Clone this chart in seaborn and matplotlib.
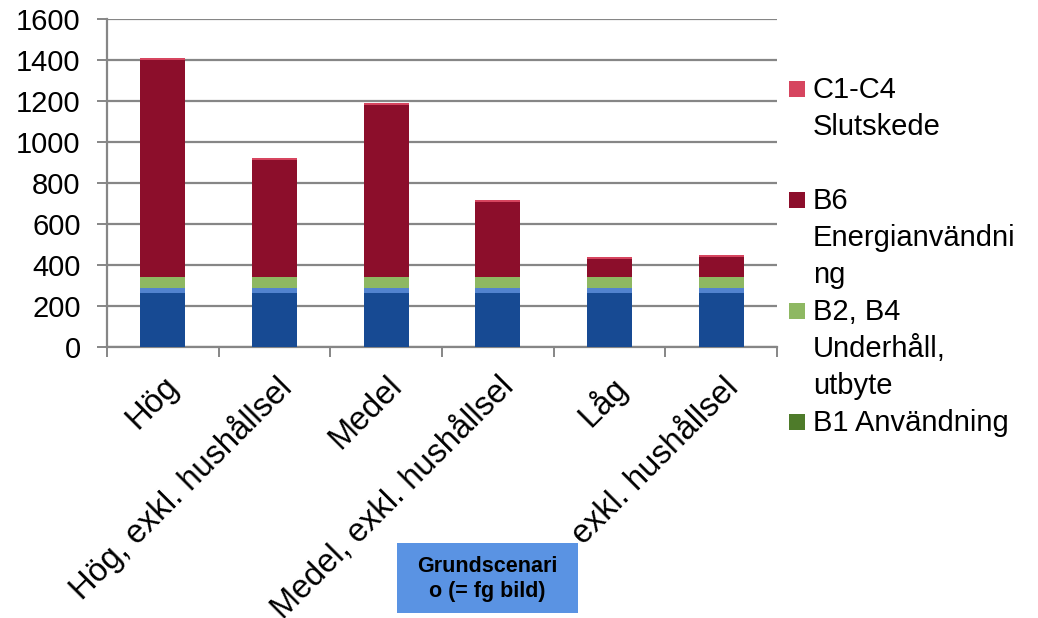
import numpy as np
import pandas as pd
import matplotlib
matplotlib.use("Agg")
import matplotlib.pyplot as plt
from matplotlib.patches import Rectangle
import seaborn as sns

# Scenarios on the x axis
scenarios = ["Hög", "Hög, exkl. hushållsel", "Medel",
             "Medel, exkl. hushållsel", "Låg", "Låg, exkl. hushållsel"]

# Stacked components, bottom to top
a1_a3 = [262, 262, 262, 262, 262, 262]
a4_a5 = [28, 28, 28, 28, 28, 28]
b1 = [0, 0, 0, 0, 0, 0]
b2_b4 = [50, 50, 50, 50, 50, 50]
b6 = [1062, 573, 840, 367, 89, 99]
c1_c4 = [10, 10, 10, 10, 10, 10]

series_names = ["A1-A3 Produktskede", "A4-A5 Byggskede", "B1 Användning",
                "B2, B4 Underhåll, utbyte", "B6 Energianvändning",
                "C1-C4 Slutskede"]
series_values = [a1_a3, a4_a5, b1, b2_b4, b6, c1_c4]
series_colors = ["#174A93", "#5283CF", "#4E7B2A", "#8EB862", "#8C0E2B", "#D6455F"]

# Legend entries (top to bottom) with their wrapped lines
legend_entries = [
    ("C1-C4 Slutskede", ["C1-C4", "Slutskede"]),
    ("B6 Energianvändning", ["B6", "Energianvändni", "ng"]),
    ("B2, B4 Underhåll, utbyte", ["B2, B4", "Underhåll,", "utbyte"]),
    ("B1 Användning", ["B1 Användning"]),
]

sns.set_style("white")
plt.rcParams["font.family"] = ["Liberation Sans", "DejaVu Sans"]
plt.rcParams["text.color"] = "black"
plt.rcParams["xtick.labelcolor"] = "black"
plt.rcParams["ytick.labelcolor"] = "black"

W, H = 1038, 618
fig = plt.figure(figsize=(W / 100, H / 100), dpi=100)
ax = fig.add_axes([107 / W, 1 - 347 / H, (777 - 107) / W, (347 - 19) / H])

grid_col = "#868686"

# Long table with cumulative heights per layer
cum = np.cumsum(np.array(series_values, dtype=float), axis=0)
rows = []
for k, name in enumerate(series_names):
    for s, v in zip(scenarios, cum[k]):
        rows.append({"scenario": s, "series": name, "top": v})
df = pd.DataFrame(rows)

for k in reversed(range(len(series_names))):
    sub = df[df["series"] == series_names[k]]
    sns.barplot(data=sub, x="scenario", y="top", order=scenarios,
                color=series_colors[k], saturation=1, width=0.4,
                linewidth=0, errorbar=None, ax=ax, zorder=3)

ax.set_xlabel("")
ax.set_ylabel("")
ax.set_xlim(-0.5, len(scenarios) - 0.5)
ax.set_ylim(0, 1600)
ax.set_yticks(np.arange(0, 1601, 200))
ax.set_axisbelow(True)
ax.yaxis.grid(True, color=grid_col, linewidth=1.6)
ax.xaxis.grid(False)

for side in ["top", "right"]:
    ax.spines[side].set_visible(False)
for side in ["left", "bottom"]:
    ax.spines[side].set_color(grid_col)
    ax.spines[side].set_linewidth(1.6)

fs = 21
ax.tick_params(axis="y", length=7, width=1.4, color=grid_col, direction="out",
               pad=12, labelsize=fs, left=True)
ax.set_xticks(np.arange(-0.5, len(scenarios), 1))
ax.set_xticklabels([])
ax.tick_params(axis="x", which="major", length=7, width=1.4, color=grid_col,
               direction="out", bottom=True)
ax.set_xticks(np.arange(len(scenarios)), minor=True)
ax.set_xticklabels(scenarios, minor=True, rotation=45, ha="right",
                   rotation_mode="anchor", fontsize=23.5)
ax.tick_params(axis="x", which="minor", length=0, pad=17)


def fx(x):
    return x / W


def fy(y):
    return 1 - y / H


# Legend drawn at the right, one square per entry, wrapped labels
color_of = dict(zip(series_names, series_colors))
line_pitch = 37
base0 = 98
row = 0
for name, lines in legend_entries:
    base = base0 + row * line_pitch
    fig.patches.append(Rectangle((fx(789), fy(base - 1)), 16 / W, 16 / H,
                                 transform=fig.transFigure,
                                 facecolor=color_of[name], edgecolor="none"))
    for j, line in enumerate(lines):
        fig.text(fx(813), fy(base + j * line_pitch), line, fontsize=fs,
                 ha="left", va="baseline")
    row += 3

# Scenario note box
box = Rectangle((fx(397), fy(613)), (578 - 397) / W, (613 - 543) / H,
                transform=fig.transFigure, facecolor="#5A93E3",
                edgecolor="none", zorder=5)
fig.patches.append(box)
fig.text(fx(487.5), fy(579), "Grundscenari\no (= fg bild)", fontsize=15.5,
         fontweight="bold", ha="center", va="center", linespacing=1.3,
         zorder=6)

fig.savefig("out.png", dpi=100)
